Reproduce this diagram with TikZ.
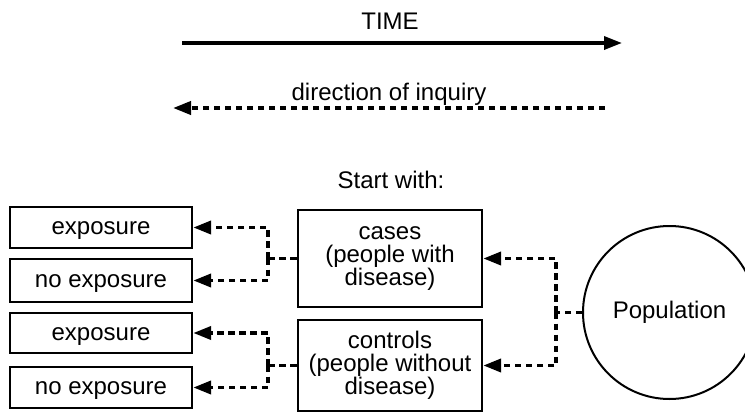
\documentclass[tikz,border=0pt]{standalone}
\usepackage{fontspec}
\setmainfont{Liberation Sans}
\usetikzlibrary{arrows.meta}
\begin{document}
\begin{tikzpicture}[x=1pt,y=-1pt,
  every node/.style={font=\fontsize{24}{23}\selectfont, inner sep=0pt, align=center},
  label/.style={anchor=base},
  box/.style={draw, line width=2.4pt, minimum width=182pt, text height=18pt, text depth=4pt},
  bigbox/.style={draw, line width=2.4pt, minimum width=184pt},
  popcircle/.style={draw, circle, line width=2pt, minimum size=173pt},
  tip/.style={-{Triangle[length=18pt,width=13pt]}},
  timeline/.style={line width=3.5pt, tip},
  dotline/.style={line width=3.8pt, dash pattern=on 6.5pt off 4.5pt},
  dotarrow/.style={dotline, tip}]
\useasboundingbox (0,0) rectangle (745,415);

% headings
\node[label] (time) at (390,30) {TIME};
\coordinate (t1) at (182,43);
\coordinate (t2) at (622,43);
\draw[timeline] (t1) -- (t2);

\node[label] (inq) at (389,100) {direction of inquiry};
\coordinate (d1) at (605,108);
\coordinate (d2) at (173,108);
\draw[dotarrow] (d1) -- (d2);

\node[label] (start) at (391,188) {Start with:};

% exposure boxes
\node[box, minimum height=41pt] (exp1) at (101,227.5) {exposure};
\node[box, minimum height=43pt] (noexp1) at (101,280.5) {no exposure};
\node[box, minimum height=40pt] (exp2) at (101,333) {exposure};
\node[box, minimum height=41pt] (noexp2) at (101,387.5) {no exposure};

% study groups
\node[bigbox, minimum height=97pt] (cases) at (390,258.5) {cases\\(people with\\disease)};
\node[bigbox, minimum height=91pt] (controls) at (390,365.5) {controls\\(people without\\disease)};

% population
\node[popcircle] (pop) at (669.5,312.5) {Population};

% junctions
\coordinate (jl1) at (268,258.5);
\coordinate (jl2) at (268,365.5);
\coordinate (jr) at (556,312.5);

\draw[dotline] (cases.west) -- (jl1);
\draw[dotarrow] (jl1) |- (exp1.east);
\draw[dotarrow] (jl1) |- (noexp1.east);

\draw[dotline] (controls.west) -- (jl2);
\draw[dotarrow] (jl2) |- (exp2.east);
\draw[dotarrow] (jl2) |- (noexp2.east);

\draw[dotline] (pop.west) -- (jr);
\draw[dotarrow] (jr) |- (cases.east);
\draw[dotarrow] (jr) |- (controls.east);
\end{tikzpicture}
\end{document}
